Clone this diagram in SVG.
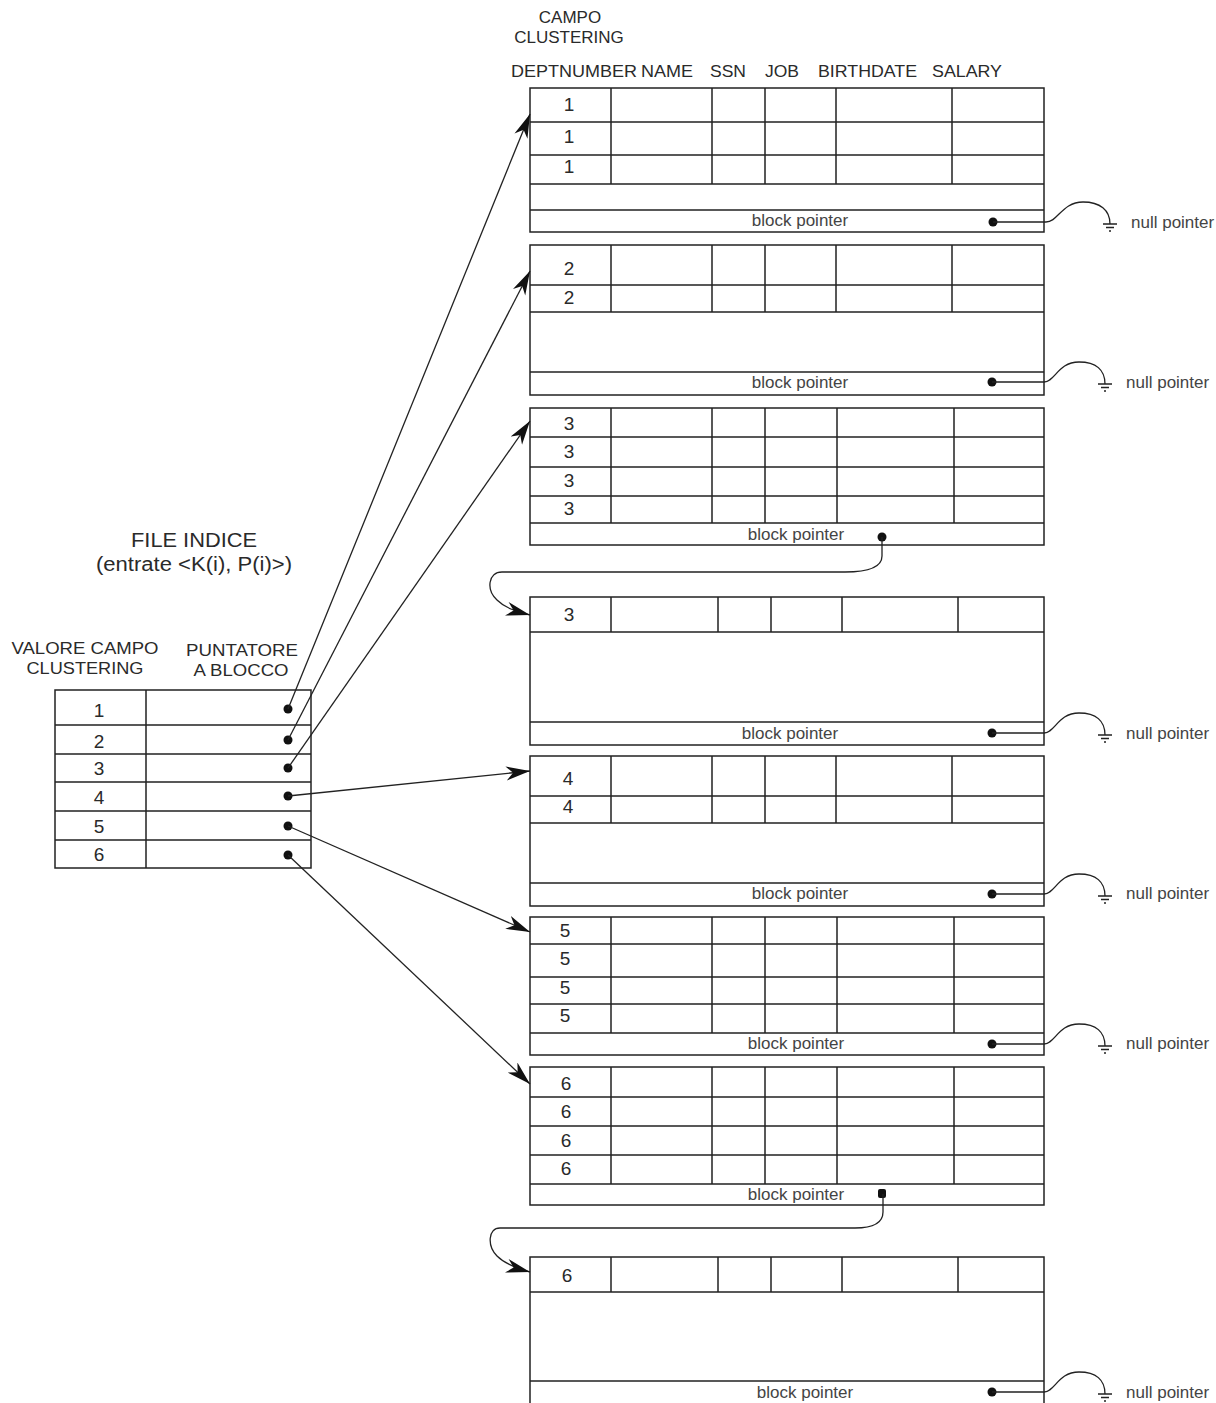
<svg xmlns="http://www.w3.org/2000/svg" width="1216" height="1403" viewBox="0 0 1216 1403">
<style>
text{font-family:"Liberation Sans",Arial,sans-serif;fill:#2a2a2a}
.hd{font-size:17px}
.num{font-size:19px;text-anchor:middle}
.bp{font-size:17px;text-anchor:middle;fill:#444}
.np{font-size:17px;fill:#444}
.title{font-size:20px;text-anchor:middle}
.box{fill:none;stroke:#222;stroke-width:1.5}
.ln{stroke:#222;stroke-width:1.5;fill:none}
.con{stroke:#222;stroke-width:1.3;fill:none}
.dot{fill:#111}
</style>
<defs>
<marker id="ah" markerUnits="userSpaceOnUse" markerWidth="26" markerHeight="16" refX="24" refY="7" orient="auto">
<path d="M0,0 L24,7 L0,14 L7,7 z" fill="#111"/>
</marker>
</defs>
<rect width="1216" height="1403" fill="#fff"/>

<g id="headers">
<text class="hd" x="570" y="23" text-anchor="middle">CAMPO</text>
<text class="hd" x="569" y="43" text-anchor="middle">CLUSTERING</text>
<text class="hd" x="511" y="77" textLength="126" lengthAdjust="spacingAndGlyphs">DEPTNUMBER</text>
<text class="hd" x="641" y="77" textLength="52" lengthAdjust="spacingAndGlyphs">NAME</text>
<text class="hd" x="710" y="77" textLength="36" lengthAdjust="spacingAndGlyphs">SSN</text>
<text class="hd" x="765" y="77" textLength="34" lengthAdjust="spacingAndGlyphs">JOB</text>
<text class="hd" x="818" y="77" textLength="99" lengthAdjust="spacingAndGlyphs">BIRTHDATE</text>
<text class="hd" x="932" y="77" textLength="70" lengthAdjust="spacingAndGlyphs">SALARY</text>
</g>

<g id="index-title">
<text class="title" x="194" y="547" textLength="126" lengthAdjust="spacingAndGlyphs">FILE INDICE</text>
<text class="title" x="194" y="571" textLength="196" lengthAdjust="spacingAndGlyphs">(entrate &lt;K(i), P(i)&gt;)</text>
<text class="hd" x="85" y="654" text-anchor="middle" textLength="147" lengthAdjust="spacingAndGlyphs">VALORE CAMPO</text>
<text class="hd" x="85" y="674" text-anchor="middle" textLength="117" lengthAdjust="spacingAndGlyphs">CLUSTERING</text>
<text class="hd" x="242" y="656" text-anchor="middle" textLength="112" lengthAdjust="spacingAndGlyphs">PUNTATORE</text>
<text class="hd" x="241" y="676" text-anchor="middle" textLength="95" lengthAdjust="spacingAndGlyphs">A BLOCCO</text>
</g>

<g id="index-table">
<rect class="box" x="55" y="690" width="256" height="178"/>
<path class="ln" d="M146,690 V868 M55,725 H311 M55,754 H311 M55,782 H311 M55,811 H311 M55,840 H311"/>
<text class="num" x="99" y="717">1</text>
<text class="num" x="99" y="748">2</text>
<text class="num" x="99" y="775">3</text>
<text class="num" x="99" y="804">4</text>
<text class="num" x="99" y="833">5</text>
<text class="num" x="99" y="861">6</text>
</g>

<g id="block1">
<rect class="box" x="530" y="88" width="514" height="144"/>
<path class="ln" d="M530,122 H1044 M530,155 H1044 M530,184 H1044 M530,210 H1044 M611,88 V184 M712,88 V184 M765,88 V184 M836,88 V184 M952,88 V184"/>
<text class="num" x="569" y="111">1</text>
<text class="num" x="569" y="143">1</text>
<text class="num" x="569" y="173">1</text>
<text class="bp" x="800" y="226">block pointer</text>
</g>

<g id="block2">
<rect class="box" x="530" y="245" width="514" height="150"/>
<path class="ln" d="M530,285 H1044 M530,312 H1044 M530,372 H1044 M611,245 V312 M712,245 V312 M765,245 V312 M836,245 V312 M952,245 V312"/>
<text class="num" x="569" y="275">2</text>
<text class="num" x="569" y="304">2</text>
<text class="bp" x="800" y="388">block pointer</text>
</g>

<g id="block3">
<rect class="box" x="530" y="408" width="514" height="137"/>
<path class="ln" d="M530,437 H1044 M530,467 H1044 M530,496 H1044 M530,523 H1044 M611,408 V523 M712,408 V523 M765,408 V523 M837,408 V523 M954,408 V523"/>
<text class="num" x="569" y="430">3</text>
<text class="num" x="569" y="458">3</text>
<text class="num" x="569" y="487">3</text>
<text class="num" x="569" y="515">3</text>
<text class="bp" x="796" y="540">block pointer</text>
</g>

<g id="block3b">
<rect class="box" x="530" y="597" width="514" height="148"/>
<path class="ln" d="M530,632 H1044 M530,722 H1044 M611,597 V632 M718,597 V632 M771,597 V632 M842,597 V632 M958,597 V632"/>
<text class="num" x="569" y="621">3</text>
<text class="bp" x="790" y="739">block pointer</text>
</g>

<g id="block4">
<rect class="box" x="530" y="756" width="514" height="150"/>
<path class="ln" d="M530,796 H1044 M530,823 H1044 M530,883 H1044 M611,756 V823 M712,756 V823 M765,756 V823 M836,756 V823 M952,756 V823"/>
<text class="num" x="568" y="785">4</text>
<text class="num" x="568" y="813">4</text>
<text class="bp" x="800" y="899">block pointer</text>
</g>

<g id="block5">
<rect class="box" x="530" y="917" width="514" height="138"/>
<path class="ln" d="M530,944 H1044 M530,977 H1044 M530,1004 H1044 M530,1033 H1044 M611,917 V1033 M712,917 V1033 M765,917 V1033 M837,917 V1033 M954,917 V1033"/>
<text class="num" x="565" y="937">5</text>
<text class="num" x="565" y="965">5</text>
<text class="num" x="565" y="994">5</text>
<text class="num" x="565" y="1022">5</text>
<text class="bp" x="796" y="1049">block pointer</text>
</g>

<g id="block6">
<rect class="box" x="530" y="1067" width="514" height="138"/>
<path class="ln" d="M530,1097 H1044 M530,1126 H1044 M530,1155 H1044 M530,1184 H1044 M611,1067 V1184 M712,1067 V1184 M765,1067 V1184 M837,1067 V1184 M954,1067 V1184"/>
<text class="num" x="566" y="1090">6</text>
<text class="num" x="566" y="1118">6</text>
<text class="num" x="566" y="1147">6</text>
<text class="num" x="566" y="1175">6</text>
<text class="bp" x="796" y="1200">block pointer</text>
</g>

<g id="block6b">
<path class="ln" d="M530,1410 V1257 H1044 V1410"/>
<path class="ln" d="M530,1292 H1044 M530,1381 H1044 M611,1257 V1292 M718,1257 V1292 M771,1257 V1292 M842,1257 V1292 M958,1257 V1292"/>
<text class="num" x="567" y="1282">6</text>
<text class="bp" x="805" y="1398">block pointer</text>
</g>

<g id="null-pointers">
<g id="null1">
<circle class="dot" cx="993" cy="222" r="4.5"/>
<path class="con" d="M993,222 H1046 C1058,222 1062,202 1083,202 C1100,202 1110,210 1110,224"/>
<path class="ln" d="M1103,224 H1117 M1106,227.5 H1114 M1109,231 H1111"/>
<text class="np" x="1131" y="228">null pointer</text>
</g>
<g id="null2">
<circle class="dot" cx="992" cy="382" r="4.5"/>
<path class="con" d="M992,382 H1044 C1055,382 1058,362 1079,362 C1096,362 1105,370 1105,384"/>
<path class="ln" d="M1098,384 H1112 M1101,387.5 H1109 M1104,391 H1106"/>
<text class="np" x="1126" y="388">null pointer</text>
</g>
<g id="null3b">
<circle class="dot" cx="992" cy="733" r="4.5"/>
<path class="con" d="M992,733 H1044 C1055,733 1058,713 1079,713 C1096,713 1105,721 1105,735"/>
<path class="ln" d="M1098,735 H1112 M1101,738.5 H1109 M1104,742 H1106"/>
<text class="np" x="1126" y="739">null pointer</text>
</g>
<g id="null4">
<circle class="dot" cx="992" cy="894" r="4.5"/>
<path class="con" d="M992,894 H1044 C1055,894 1058,874 1079,874 C1096,874 1105,882 1105,896"/>
<path class="ln" d="M1098,896 H1112 M1101,899.5 H1109 M1104,903 H1106"/>
<text class="np" x="1126" y="899">null pointer</text>
</g>
<g id="null5">
<circle class="dot" cx="992" cy="1044" r="4.5"/>
<path class="con" d="M992,1044 H1044 C1055,1044 1058,1024 1079,1024 C1096,1024 1105,1032 1105,1046"/>
<path class="ln" d="M1098,1046 H1112 M1101,1049.5 H1109 M1104,1053 H1106"/>
<text class="np" x="1126" y="1049">null pointer</text>
</g>
<g id="null6b">
<circle class="dot" cx="992" cy="1392" r="4.5"/>
<path class="con" d="M992,1392 H1044 C1055,1392 1058,1372 1079,1372 C1096,1372 1105,1380 1105,1394"/>
<path class="ln" d="M1098,1394 H1112 M1101,1397.5 H1109 M1104,1401 H1106"/>
<text class="np" x="1126" y="1398">null pointer</text>
</g>
</g>

<g id="connectors">
<circle class="dot" cx="288" cy="709" r="4.5"/>
<circle class="dot" cx="288" cy="740" r="4.5"/>
<circle class="dot" cx="288" cy="768" r="4.5"/>
<circle class="dot" cx="288" cy="796" r="4.5"/>
<circle class="dot" cx="288" cy="826" r="4.5"/>
<circle class="dot" cx="288" cy="855" r="4.5"/>
<path class="con" marker-end="url(#ah)" d="M288,709 L530,114"/>
<path class="con" marker-end="url(#ah)" d="M288,740 L530,271"/>
<path class="con" marker-end="url(#ah)" d="M288,768 L530,421"/>
<path class="con" marker-end="url(#ah)" d="M288,796 L530,771"/>
<path class="con" marker-end="url(#ah)" d="M288,826 L530,932"/>
<path class="con" marker-end="url(#ah)" d="M288,855 L530,1084"/>
<circle class="dot" cx="882" cy="537" r="4.5"/>
<path class="con" marker-end="url(#ah)" d="M882,537 V556 C882,568 868,572 845,572 H502 C488,572 486,590 497,600 C505,608 515,611 530,615"/>
<rect class="dot" x="878" y="1189" width="8" height="9" rx="2"/>
<path class="con" marker-end="url(#ah)" d="M883,1194 V1212 C883,1224 870,1228 855,1228 H500 C488,1228 487,1246 497,1256 C505,1264 515,1268 530,1272"/>
</g>
</svg>
